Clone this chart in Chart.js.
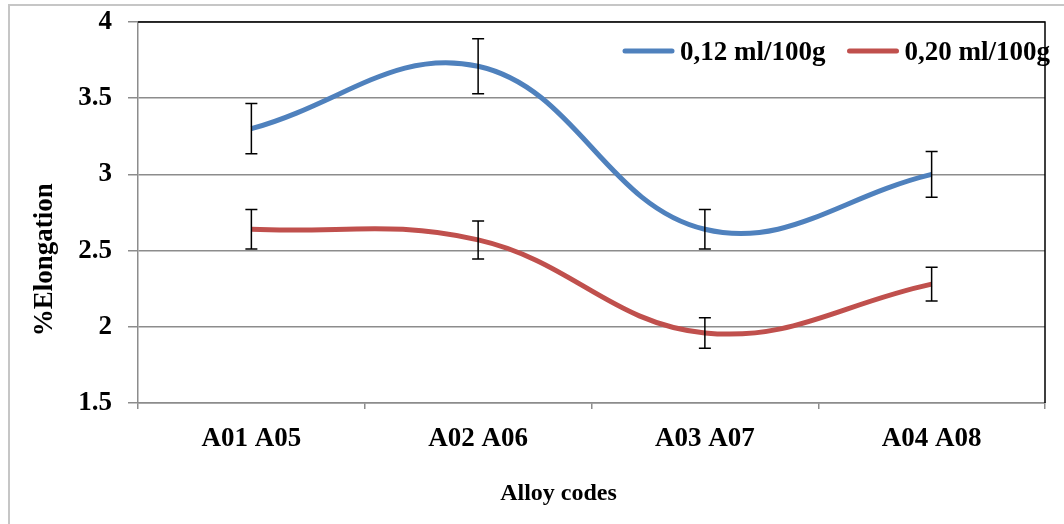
<!DOCTYPE html>
<html lang="en">
<head>
    <meta charset="UTF-8">
    <title>%Elongation by alloy</title>
    <script src="https://cdn.jsdelivr.net/npm/chart.js@4.4.0/dist/chart.umd.min.js"></script>
    <style>
        body { margin: 0; background: #fff; }
        .frame { position: absolute; left: 8px; top: 4px; width: 1100px; height: 600px; border: 2px solid #c6c6c6; }
        .wrapper { position: absolute; left: 0; top: 0; width: 1064px; height: 524px; }
    </style>
</head>
<body>
    <div class="frame"></div>
    <div class="wrapper">
        <canvas id="myChart" width="1064" height="524"></canvas>
    </div>
    <script>
        var categories = ['A01 A05', 'A02 A06', 'A03 A07', 'A04 A08'];
        var seriesNames = ['0,12 ml/100g', '0,20 ml/100g'];
        var values012 = [3.30, 3.71, 2.64, 3.00];
        var errors012 = [0.165, 0.18, 0.13, 0.15];
        var values020 = [2.64, 2.57, 1.96, 2.28];
        var errors020 = [0.13, 0.125, 0.1, 0.11];
        var yMin = 1.5, yMax = 4, yStep = 0.5;

        var serif = "'Liberation Serif', 'Times New Roman', serif";
        var nb = function(n) { return new Array(n + 1).join('\u00a0'); };

        // black top / right edge of the plot area
        var plotEdges = {
            id: 'plotEdges',
            afterDraw: function(chart) {
                var a = chart.chartArea, ctx = chart.ctx;
                ctx.save();
                ctx.strokeStyle = '#000';
                ctx.lineWidth = 1.5;
                ctx.beginPath();
                ctx.moveTo(a.left, a.top);
                ctx.lineTo(a.right, a.top);
                ctx.lineTo(a.right, a.bottom);
                ctx.stroke();
                ctx.restore();
            }
        };

        // error bars, drawn from each dataset's errors array
        var errorBars = {
            id: 'errorBars',
            afterDatasetsDraw: function(chart) {
                var ctx = chart.ctx, y = chart.scales.y;
                ctx.save();
                ctx.strokeStyle = '#000';
                ctx.lineWidth = 1.5;
                chart.data.datasets.forEach(function(ds, i) {
                    var meta = chart.getDatasetMeta(i);
                    meta.data.forEach(function(pt, j) {
                        var top = y.getPixelForValue(ds.data[j] + ds.errors[j]);
                        var bot = y.getPixelForValue(ds.data[j] - ds.errors[j]);
                        ctx.beginPath();
                        ctx.moveTo(pt.x, top); ctx.lineTo(pt.x, bot);
                        ctx.moveTo(pt.x - 6, top); ctx.lineTo(pt.x + 6, top);
                        ctx.moveTo(pt.x - 6, bot); ctx.lineTo(pt.x + 6, bot);
                        ctx.stroke();
                    });
                });
                ctx.restore();
            }
        };

        // legend in one row at the top right inside the plot
        var insideLegend = {
            id: 'insideLegend',
            afterDraw: function(chart) {
                var ctx = chart.ctx, a = chart.chartArea;
                var sample = 51, gap = 6, spacing = 22, y = a.top + 30;
                ctx.save();
                ctx.font = 'bold 27px ' + serif;
                var items = chart.data.datasets.map(function(ds) {
                    return { ds: ds, w: ctx.measureText(ds.label).width };
                });
                var total = 0;
                items.forEach(function(it, i) { total += sample + gap + it.w + (i ? spacing : 0); });
                var x = a.right + 5 - total;
                ctx.textBaseline = 'middle';
                ctx.fillStyle = '#000';
                items.forEach(function(it) {
                    ctx.strokeStyle = it.ds.borderColor;
                    ctx.lineWidth = 5;
                    ctx.lineCap = 'round';
                    ctx.beginPath();
                    ctx.moveTo(x + 2, y - 1); ctx.lineTo(x + sample - 2, y - 1);
                    ctx.stroke();
                    ctx.fillText(it.ds.label, x + sample + gap, y + 1);
                    x += sample + gap + it.w + spacing;
                });
                ctx.restore();
            }
        };

        var ctx = document.getElementById('myChart').getContext('2d');
        var chart = new Chart(ctx, {
            type: 'line',
            data: {
                labels: categories,
                datasets: [
                    {
                        label: seriesNames[0],
                        data: values012,
                        errors: errors012,
                        borderColor: '#4f81bd',
                        borderWidth: 5,
                        pointRadius: 0,
                        tension: 0.4,
                        fill: false
                    },
                    {
                        label: seriesNames[1],
                        data: values020,
                        errors: errors020,
                        borderColor: '#c0504d',
                        borderWidth: 5,
                        pointRadius: 0,
                        tension: 0.4,
                        fill: false
                    }
                ]
            },
            options: {
                responsive: false,
                animation: false,
                layout: { padding: { left: 10, top: 22, right: 19, bottom: 0 } },
                plugins: {
                    tooltip: { enabled: false },
                    legend: { display: false }
                },
                scales: {
                    x: {
                        offset: true,
                        grid: { offset: true, drawOnChartArea: false, tickLength: 6, color: '#8c8c8c', lineWidth: 1.5 },
                        border: { color: '#8c8c8c', width: 1.5 },
                        ticks: { color: '#000', maxRotation: 0, padding: 14, font: { family: serif, size: 27, weight: 'bold' } },
                        title: {
                            display: true, text: 'Alloy codes' + nb(11), color: '#000',
                            padding: { top: 0, bottom: 16 },
                            font: { family: serif, size: 24, weight: 'bold' }
                        },
                        afterFit: function(scale) { scale.height = 121; }
                    },
                    y: {
                        min: yMin, max: yMax,
                        ticks: {
                            stepSize: yStep, color: '#000', padding: 16,
                            font: { family: serif, size: 27, weight: 'bold' },
                            callback: function(v) { return String(v); }
                        },
                        grid: { color: '#8c8c8c', lineWidth: 1.5, tickLength: 10 },
                        border: { color: '#8c8c8c', width: 1.5 },
                        title: {
                            display: true, text: '%Elongation' + nb(14), color: '#000',
                            padding: { top: 19, bottom: 0 },
                            font: { family: serif, size: 27, weight: 'bold' }
                        },
                        afterFit: function(scale) {
                            scale.width = 128;
                            scale.paddingTop = 0;
                            scale.paddingBottom = 0;
                        }
                    }
                }
            },
            plugins: [plotEdges, errorBars, insideLegend]
        });
    </script>
</body>
</html>
